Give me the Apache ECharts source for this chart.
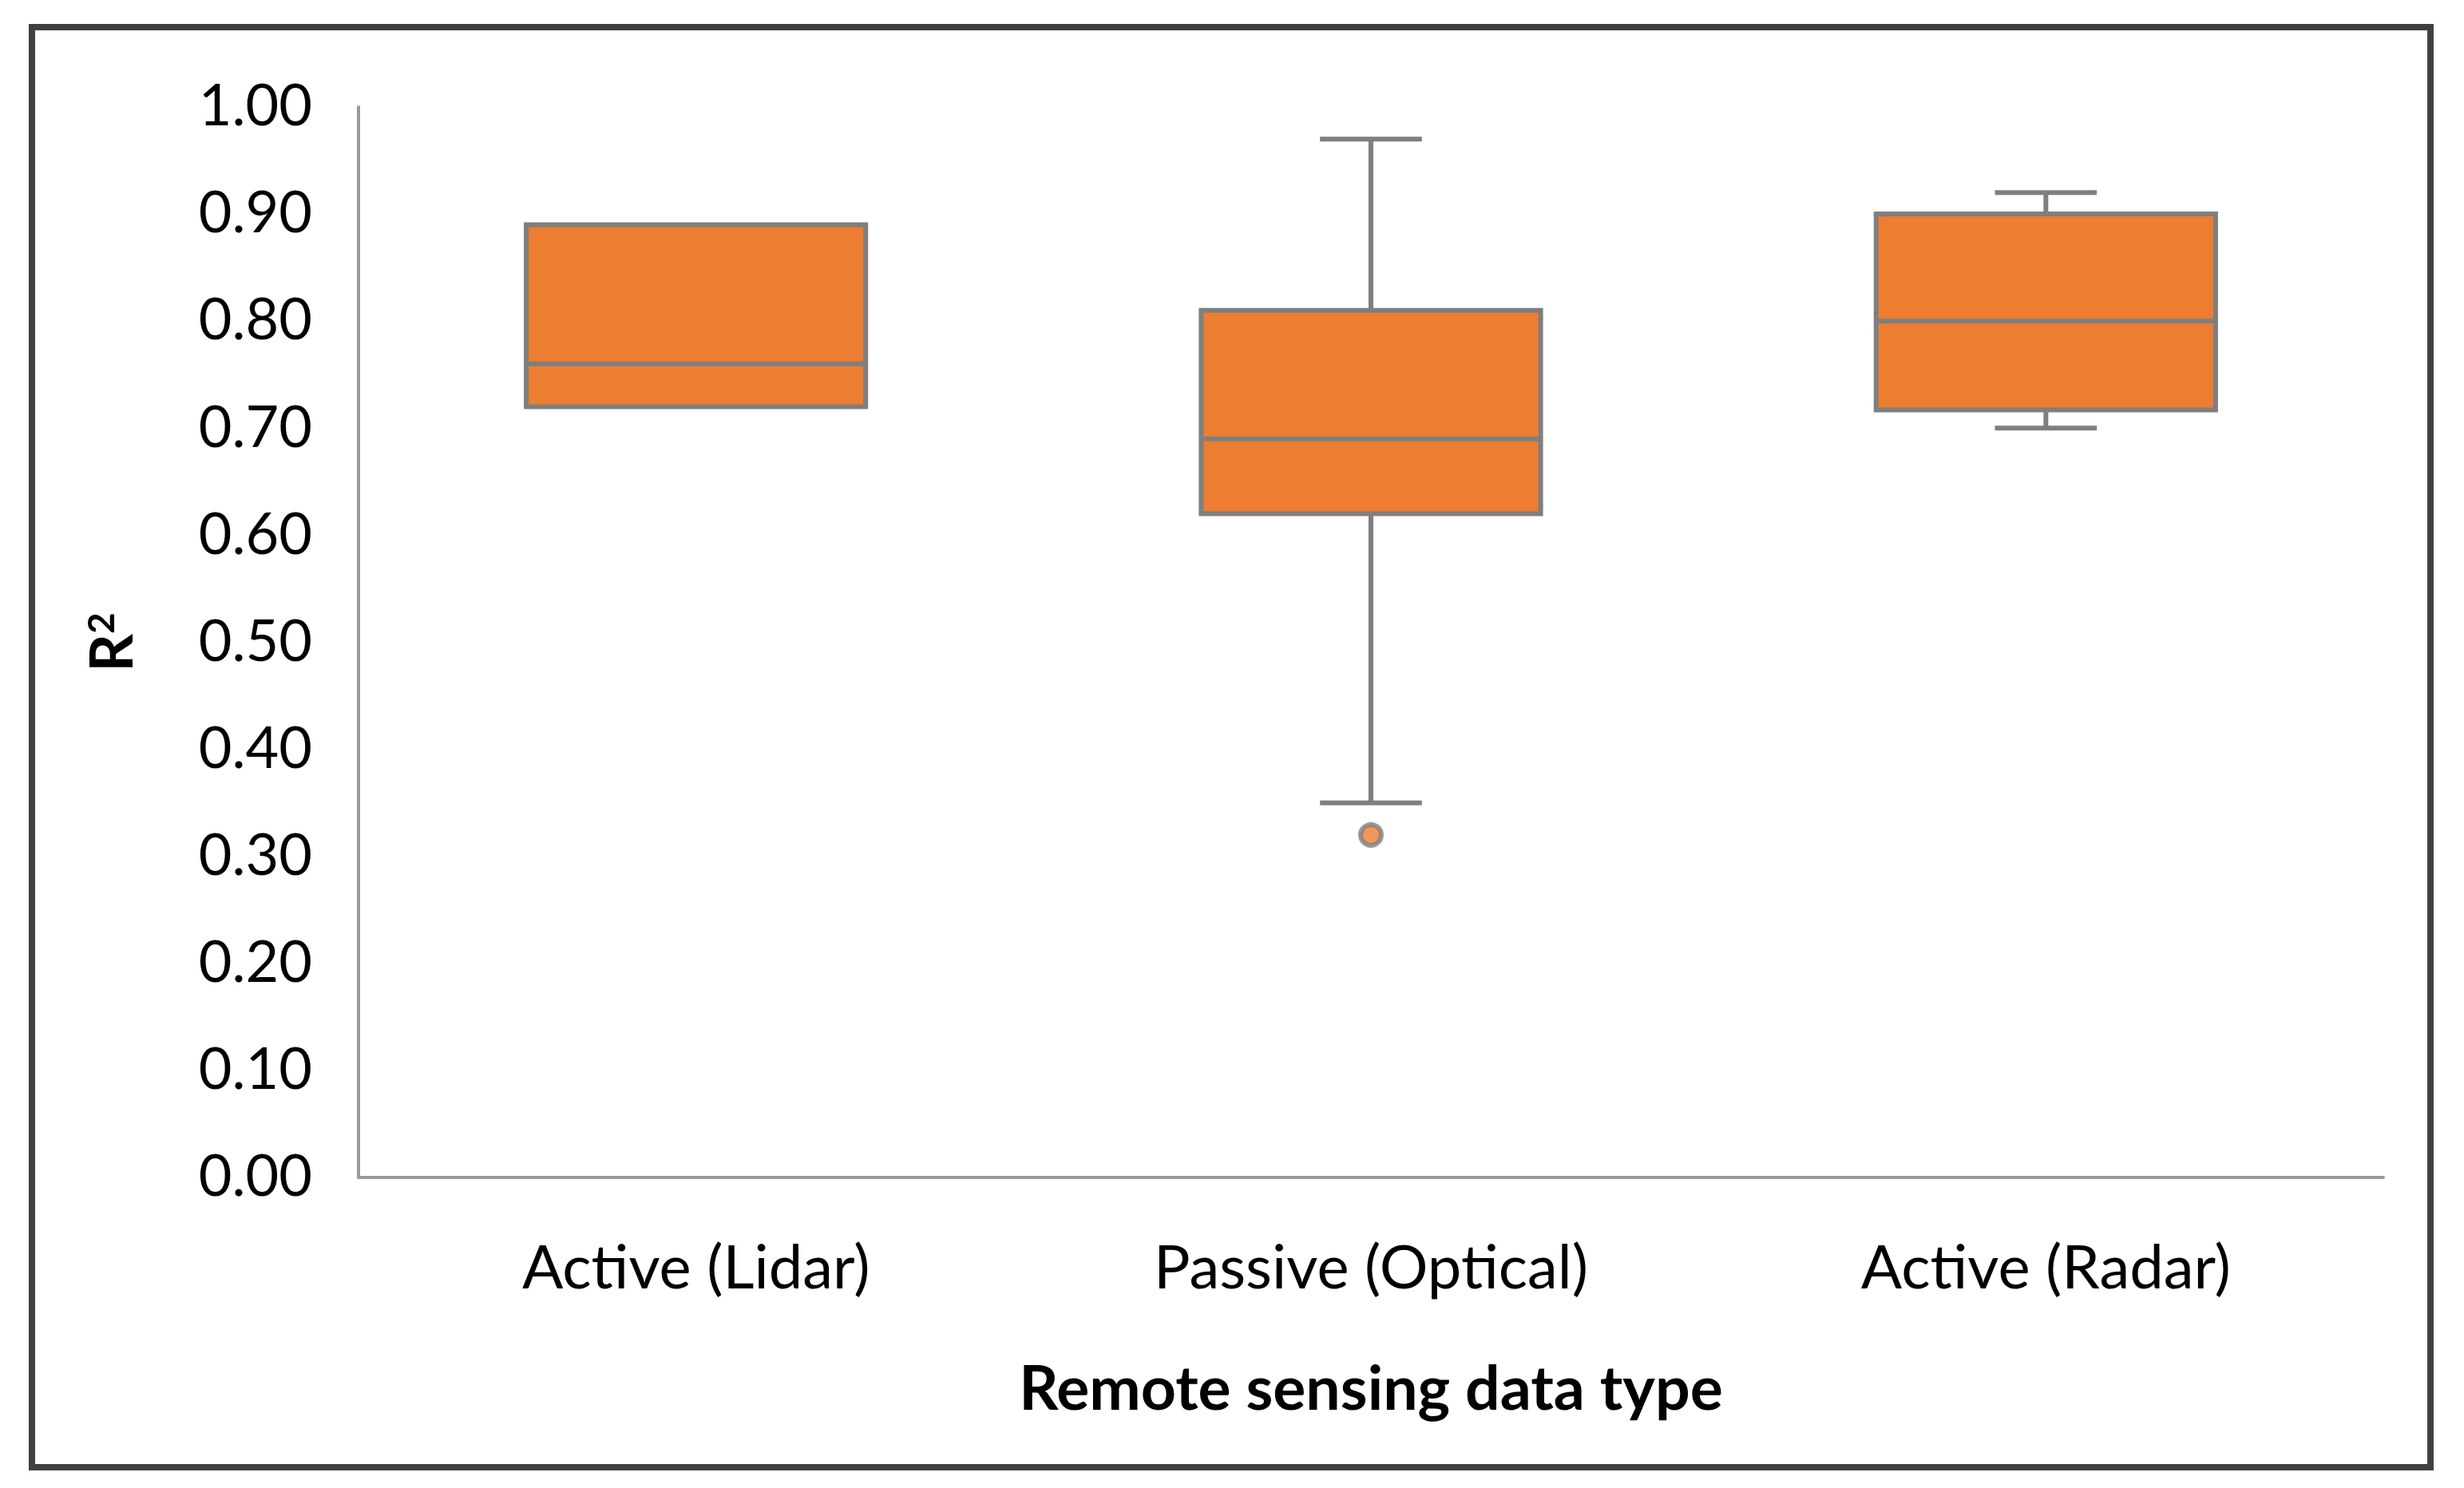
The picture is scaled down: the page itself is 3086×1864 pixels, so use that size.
<!DOCTYPE html>
<html>
<head>
<meta charset="utf-8">
<script src="https://cdn.jsdelivr.net/npm/echarts@6/dist/echarts.min.js"></script>
<style>html,body{margin:0;padding:0;background:#fff}#c{width:3086px;height:1864px}</style>
</head>
<body>
<div id="c"></div>
<script>
const categories = ['Active (Lidar)', 'Passive (Optical)', 'Active (Radar)'];
const minVals    = [0.72, 0.35, 0.70];
const q1Vals     = [0.72, 0.62, 0.717];
const medianVals = [0.76, 0.69, 0.80];
const q3Vals     = [0.89, 0.81, 0.90];
const maxVals    = [0.89, 0.97, 0.92];
const outliers   = [[1, 0.32]];
const yTicks     = { min: 0, max: 1, interval: 0.1 };

const boxData = categories.map((c, i) => [i, minVals[i], q1Vals[i], medianVals[i], q3Vals[i], maxVals[i]]);

const lineColor = '#7f7f7f';
const fillColor = '#ED7D31';
const font = 'Lato, "Open Sans", sans-serif';

const chart = echarts.init(document.getElementById('c'));
chart.setOption({
  backgroundColor: '#ffffff',
  animation: false,
  graphic: [{
    type: 'rect',
    shape: { x: 40, y: 34, width: 3004, height: 1804 },
    style: { fill: 'none', stroke: '#404040', lineWidth: 8 },
    silent: true, z: 100
  }],
  grid: { left: 449, right: 101, top: 134, bottom: 389 },
  xAxis: {
    type: 'category',
    data: categories,
    axisLine: { lineStyle: { color: '#9a9a9a', width: 4 } },
    axisTick: { show: false },
    axisLabel: { fontFamily: font, fontSize: 76, color: '#000', margin: 76 },
    name: 'Remote sensing data type',
    nameLocation: 'middle',
    nameGap: 228,
    nameTextStyle: { fontFamily: font, fontSize: 77, fontWeight: 'bold', color: '#000' }
  },
  yAxis: {
    type: 'value',
    min: yTicks.min, max: yTicks.max, interval: yTicks.interval,
    axisLine: { show: true, lineStyle: { color: '#9a9a9a', width: 4 } },
    axisTick: { show: false },
    splitLine: { show: false },
    axisLabel: { fontFamily: font, fontSize: 72, color: '#000', margin: 58,
      formatter: v => v.toFixed(2) },
    name: '{b|R}{s|2}',
    nameLocation: 'middle',
    nameGap: 270,
    nameRotate: 90,
    nameTextStyle: {
      rich: {
        b: { fontFamily: font, fontSize: 74, fontWeight: 'bold', color: '#000' },
        s: { fontFamily: font, fontSize: 46, fontWeight: 'bold', color: '#000', verticalAlign: 'top' }
      }
    }
  },
  series: [{
    type: 'custom',
    data: boxData,
    encode: { x: 0, y: [1, 2, 3, 4, 5] },
    renderItem: function (params, api) {
      const i = api.value(0);
      const lo = api.coord([i, api.value(1)]);
      const q1 = api.coord([i, api.value(2)]);
      const md = api.coord([i, api.value(3)]);
      const q3 = api.coord([i, api.value(4)]);
      const hi = api.coord([i, api.value(5)]);
      const band = api.size([1, 0])[0];
      const bw = band * 0.503;
      const cw = band * 0.151;
      const x = q1[0];
      const ls = { stroke: lineColor, lineWidth: 6 };
      const ch = [];
      if (api.value(5) > api.value(4)) {
        ch.push({ type: 'line', shape: { x1: x, y1: q3[1], x2: x, y2: hi[1] }, style: ls });
        ch.push({ type: 'line', shape: { x1: x - cw / 2, y1: hi[1], x2: x + cw / 2, y2: hi[1] }, style: ls });
      }
      if (api.value(1) < api.value(2)) {
        ch.push({ type: 'line', shape: { x1: x, y1: q1[1], x2: x, y2: lo[1] }, style: ls });
        ch.push({ type: 'line', shape: { x1: x - cw / 2, y1: lo[1], x2: x + cw / 2, y2: lo[1] }, style: ls });
      }
      ch.push({ type: 'rect', shape: { x: x - bw / 2, y: q3[1], width: bw, height: q1[1] - q3[1] },
        style: { fill: fillColor, stroke: lineColor, lineWidth: 6 } });
      ch.push({ type: 'line', shape: { x1: x - bw / 2, y1: md[1], x2: x + bw / 2, y2: md[1] }, style: ls });
      return { type: 'group', children: ch };
    }
  }, {
    type: 'scatter',
    data: outliers,
    symbol: 'circle',
    symbolSize: 26,
    itemStyle: { color: fillColor, borderColor: lineColor, borderWidth: 6 }
  }]
});
</script>
</body>
</html>
